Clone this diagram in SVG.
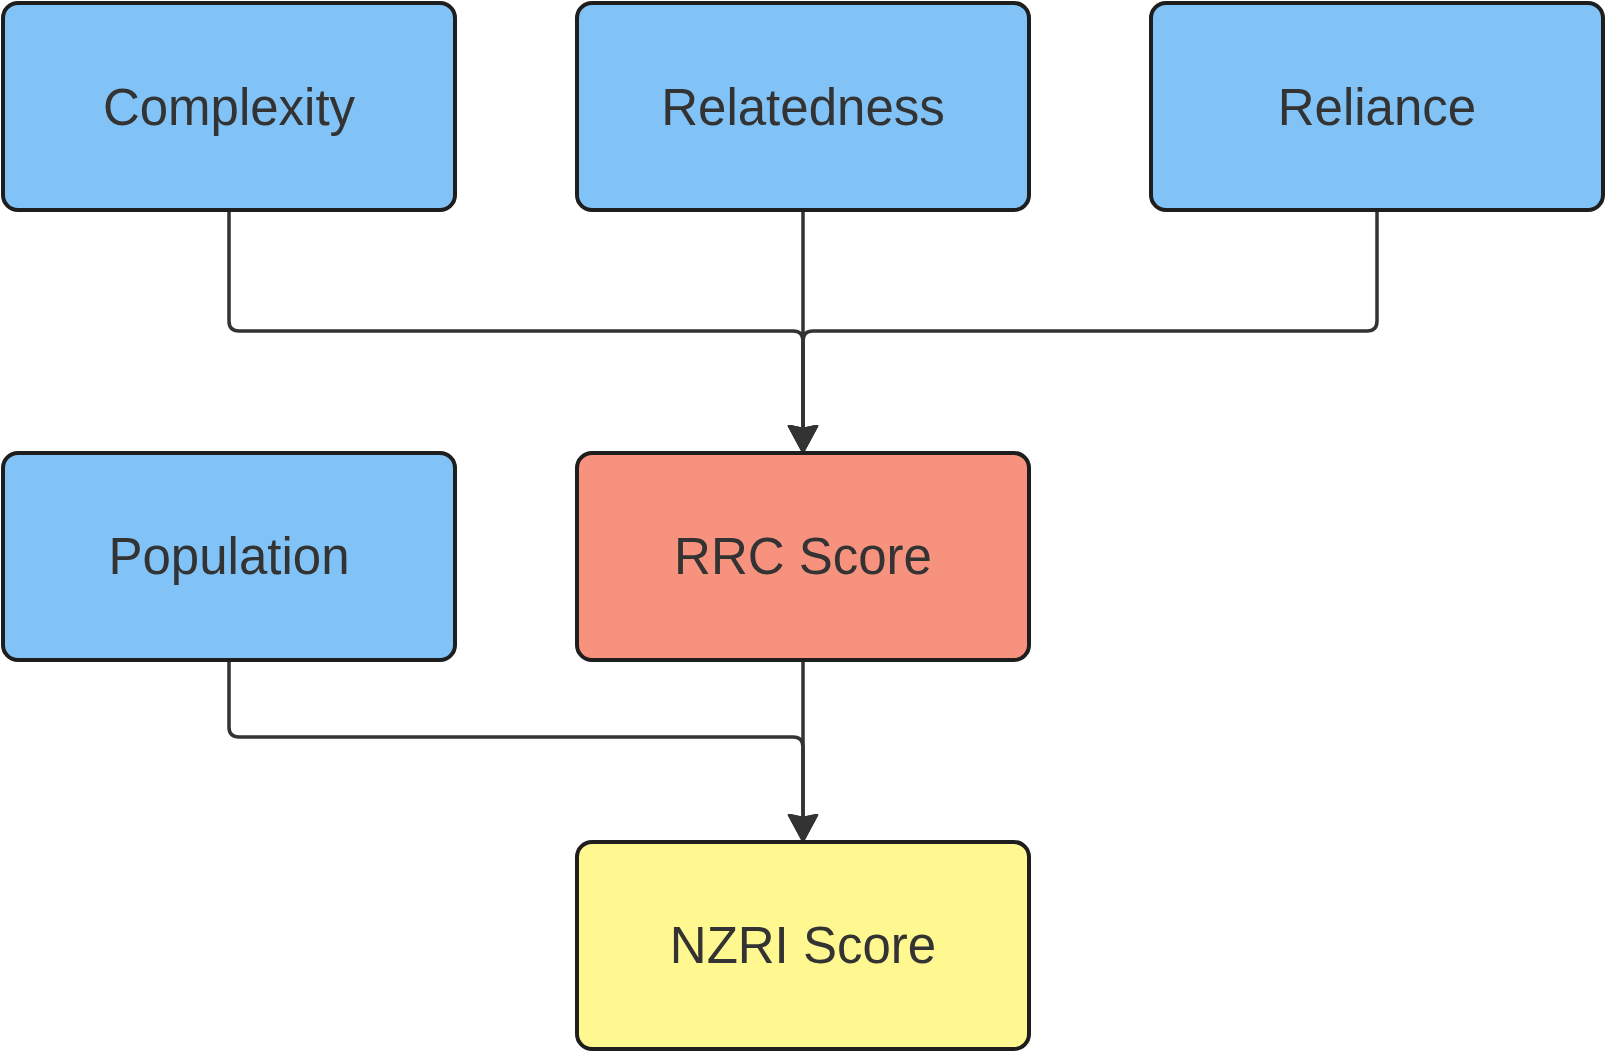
<svg xmlns="http://www.w3.org/2000/svg" width="1606" height="1052" viewBox="0 0 1606 1052">
<style>
.node rect{stroke:#1e1e1e;stroke-width:4}
.blue rect{fill:#81C3F7}
.red rect{fill:#F7927F}
.yellow rect{fill:#FFF78F}
.node text{font-family:"Liberation Sans",Arial,sans-serif;font-size:51px;fill:#333;text-anchor:middle}
.edge{fill:none;stroke:#333;stroke-width:3.5}
</style>
<defs>
<marker id="arr" markerUnits="userSpaceOnUse" viewBox="0 0 28 32" markerWidth="28" markerHeight="32" refX="18" refY="16" orient="auto">
<path d="M1,2 L27,16 L1,30 L4,16 z" fill="#333" stroke="#333" stroke-width="2.5" stroke-linejoin="round"/>
</marker>
</defs>
<rect width="1606" height="1052" fill="#fff"/>
<g id="connectors">
<path class="edge" d="M229,210 V321 Q229,331 239,331 H793 Q803,331 803,341 V443" marker-end="url(#arr)"/>
<path class="edge" d="M1377,210 V321 Q1377,331 1367,331 H813 Q803,331 803,341 V443" marker-end="url(#arr)"/>
<path class="edge" d="M803,210 V443" marker-end="url(#arr)"/>
<path class="edge" d="M229,660 V727 Q229,737 239,737 H793 Q803,737 803,747 V832" marker-end="url(#arr)"/>
<path class="edge" d="M803,660 V832" marker-end="url(#arr)"/>
</g>
<g id="complexity" class="node blue"><rect x="3" y="3" width="452" height="207" rx="15"/><text x="229" y="125">Complexity</text></g>
<g id="relatedness" class="node blue"><rect x="577" y="3" width="452" height="207" rx="15"/><text x="803" y="125">Relatedness</text></g>
<g id="reliance" class="node blue"><rect x="1151" y="3" width="452" height="207" rx="15"/><text x="1377" y="125">Reliance</text></g>
<g id="population" class="node blue"><rect x="3" y="453" width="452" height="207" rx="15"/><text x="229" y="574">Population</text></g>
<g id="rrc" class="node red"><rect x="577" y="453" width="452" height="207" rx="15"/><text x="803" y="574">RRC Score</text></g>
<g id="nzri" class="node yellow"><rect x="577" y="842" width="452" height="207" rx="15"/><text x="803" y="963">NZRI Score</text></g>
</svg>
